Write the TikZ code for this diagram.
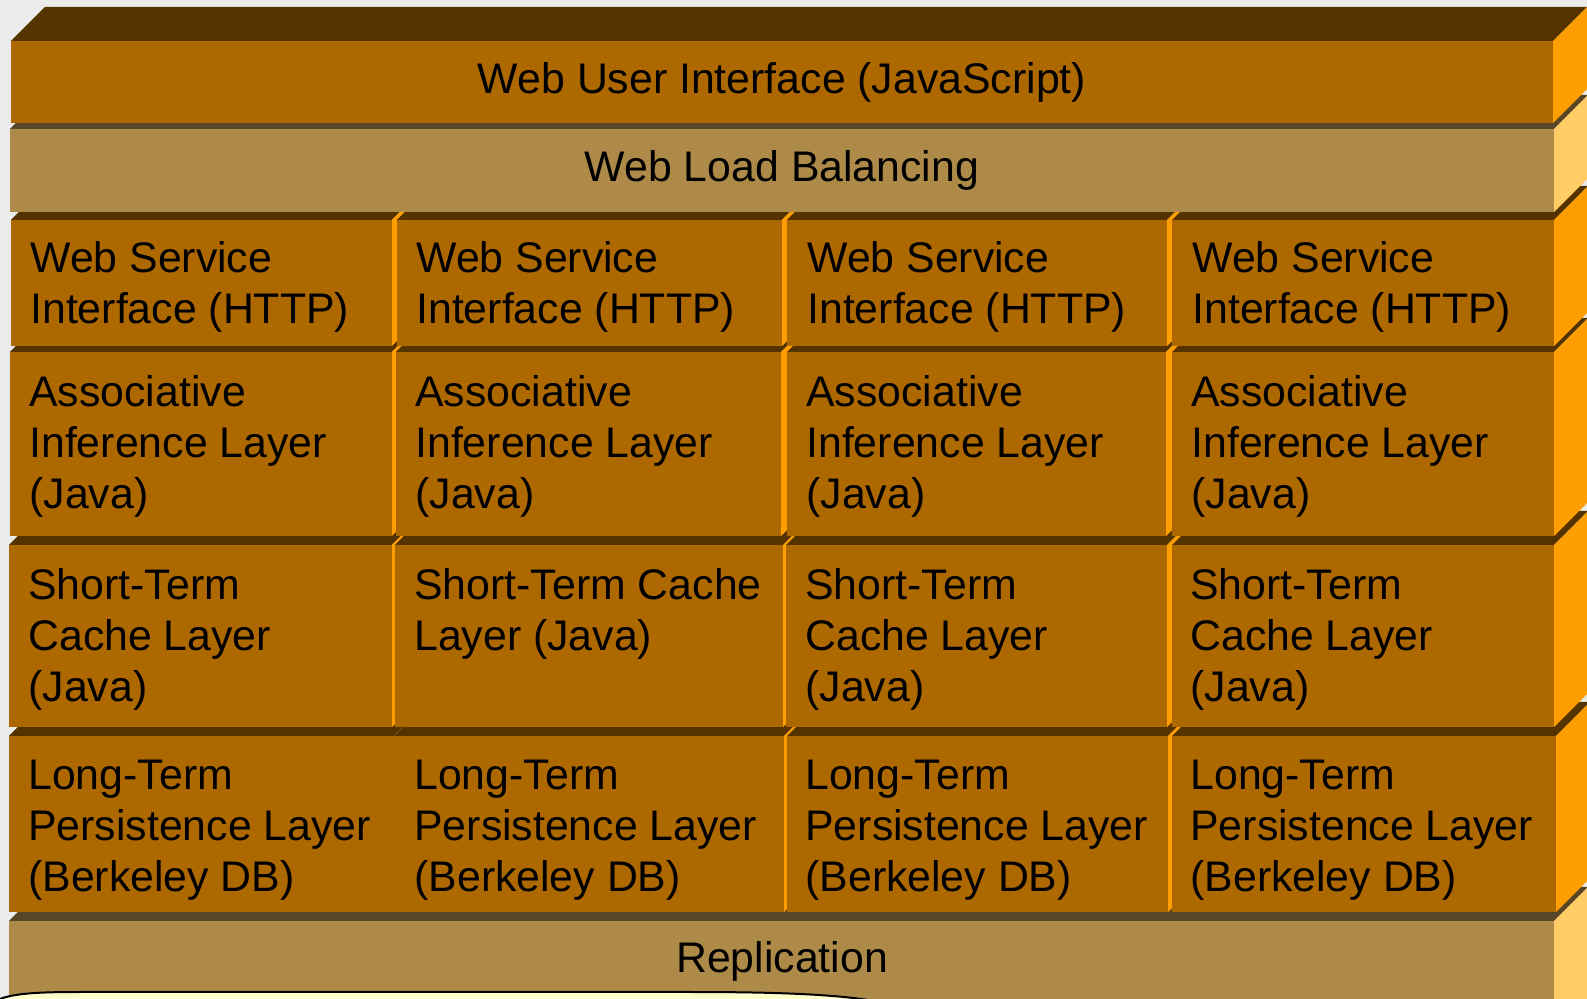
\documentclass[tikz,border=0pt]{standalone}
\usepackage{fontspec}
\setmainfont{Liberation Sans}
\definecolor{bgc}{RGB}{235,235,235}
\definecolor{ofront}{RGB}{173,104,0}
\definecolor{otopc}{RGB}{85,51,0}
\definecolor{osidec}{RGB}{255,158,0}
\definecolor{tfront}{RGB}{173,138,71}
\definecolor{ttopc}{RGB}{87,71,40}
\definecolor{tsidec}{RGB}{255,204,102}
\definecolor{paper}{RGB}{255,255,204}
\tikzset{
  ofrontface/.style={fill=ofront},
  otopface/.style={fill=otopc},
  osideface/.style={fill=osidec},
  tfrontface/.style={fill=tfront},
  ttopface/.style={fill=ttopc},
  tsideface/.style={fill=tsidec},
  celltext/.style={anchor=north west, inner sep=0pt, align=left, font=\fontsize{21.4}{25.6}\selectfont},
  bandtext/.style={anchor=base, inner sep=0pt, font=\fontsize{21.4}{25.6}\selectfont},
}
\newcommand{\layerbox}[5]{%
  \fill[#5topface] (#1,#2) -- (#1+34,#2-34) -- (#3+34,#2-34) -- (#3,#2) -- cycle;
  \fill[#5sideface] (#3,#2) -- (#3+34,#2-34) -- (#3+34,#4-34) -- (#3,#4) -- cycle;
  \fill[#5frontface] (#1,#2) rectangle (#3,#4);
}
\begin{document}
\begin{tikzpicture}[x=0.5pt,y=-0.5pt]
\useasboundingbox (0,0) rectangle (1587,999);
\clip (0,0) rectangle (1587,999);
\fill[bgc] (0,0) rectangle (1587,999);
% row 7
\layerbox{9}{921}{1554}{1060}{t}
% row 6
\layerbox{9}{736}{394}{912}{o}
\layerbox{394}{736}{784}{912}{o}
\layerbox{787}{736}{1168}{912}{o}
\layerbox{1172}{736}{1556}{912}{o}
% row 5
\layerbox{9}{545}{392}{727}{o}
\layerbox{395}{545}{783}{727}{o}
\layerbox{786}{545}{1167}{727}{o}
\layerbox{1172}{545}{1554}{727}{o}
% row 4
\layerbox{10}{352}{392}{536}{o}
\layerbox{396}{352}{781}{536}{o}
\layerbox{787}{352}{1166}{536}{o}
\layerbox{1172}{352}{1554}{536}{o}
% row 3
\layerbox{11}{220}{392}{346}{o}
\layerbox{397}{220}{782}{346}{o}
\layerbox{787}{220}{1167}{346}{o}
\layerbox{1172}{220}{1554}{346}{o}
% row 2
\layerbox{10}{129}{1554}{212}{t}
% row 1
\layerbox{11}{41}{1553}{123}{o}

% texts
\node[bandtext] (ui) at (782,94) {Web User Interface (JavaScript)};
\node[bandtext] (lb) at (782,182) {Web Load Balancing};
\node[bandtext] (rep) at (782,973) {Replication};

\node[celltext] (ws1) at (30,236) {\strut Web Service\\Interface (HTTP)};
\node[celltext] (ws2) at (416,236) {\strut Web Service\\Interface (HTTP)};
\node[celltext] (ws3) at (807,236) {\strut Web Service\\Interface (HTTP)};
\node[celltext] (ws4) at (1192,236) {\strut Web Service\\Interface (HTTP)};

\node[celltext] (ai1) at (29,370) {\strut Associative\\Inference Layer\\(Java)};
\node[celltext] (ai2) at (415,370) {\strut Associative\\Inference Layer\\(Java)};
\node[celltext] (ai3) at (806,370) {\strut Associative\\Inference Layer\\(Java)};
\node[celltext] (ai4) at (1191,370) {\strut Associative\\Inference Layer\\(Java)};

\node[celltext] (sc1) at (28,563) {\strut Short-Term\\Cache Layer\\(Java)};
\node[celltext] (sc2) at (414,563) {\strut Short-Term Cache\\Layer (Java)};
\node[celltext] (sc3) at (805,563) {\strut Short-Term\\Cache Layer\\(Java)};
\node[celltext] (sc4) at (1190,563) {\strut Short-Term\\Cache Layer\\(Java)};

\node[celltext] (lt1) at (28,753) {\strut Long-Term\\Persistence Layer\\(Berkeley DB)};
\node[celltext] (lt2) at (414,753) {\strut Long-Term\\Persistence Layer\\(Berkeley DB)};
\node[celltext] (lt3) at (805,753) {\strut Long-Term\\Persistence Layer\\(Berkeley DB)};
\node[celltext] (lt4) at (1190,753) {\strut Long-Term\\Persistence Layer\\(Berkeley DB)};

% partly visible shape at the bottom
\filldraw[fill=paper, draw=black, line width=1pt] (-5,1001) .. controls (10,994) and (30,992) .. (80,992) -- (690,992) .. controls (790,992) and (850,995) .. (890,1004) -- cycle;
\end{tikzpicture}
\end{document}
